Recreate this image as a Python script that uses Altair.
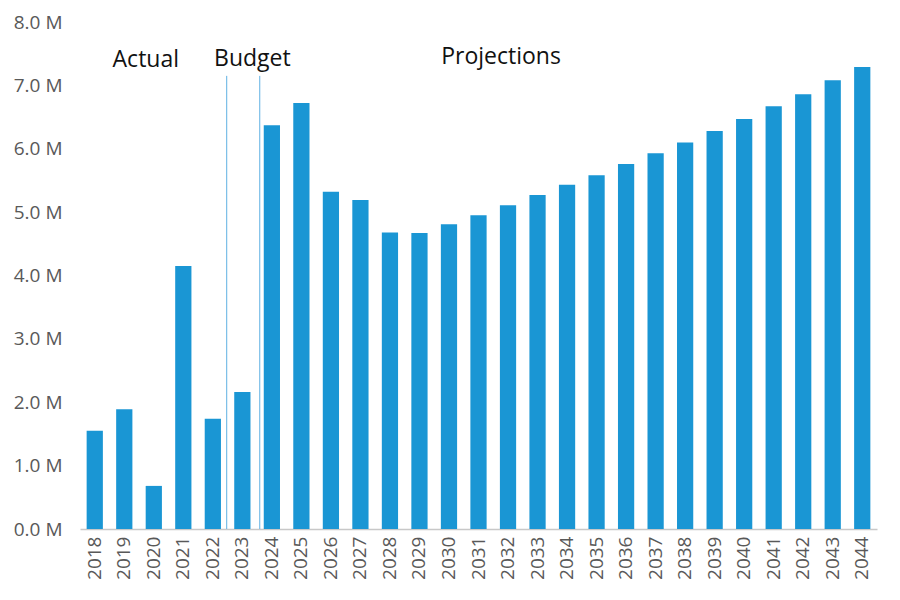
import altair as alt
import pandas as pd

years = [str(y) for y in range(2018, 2045)]
values = [1.55, 1.89, 0.68, 4.15, 1.74, 2.16, 6.37, 6.72, 5.32, 5.19, 4.68, 4.67,
          4.81, 4.95, 5.11, 5.27, 5.43, 5.58, 5.76, 5.93, 6.10, 6.28, 6.47, 6.67,
          6.86, 7.08, 7.29]
values = [v * 1e6 for v in values]

note_labels = ["Actual", "Budget", "Projections"]
note_years = ["2020", "2023", "2032"]
note_dx = [-8, 10, -7]
note_y = [7.40e6, 7.42e6, 7.45e6]

divider_years = ["2022", "2024"]
divider_shift = [22, -4]
divider_top = 7.15e6

df = pd.DataFrame({"year": years, "value": values})

FONT = "Open Sans"

xscale = alt.Scale(domain=years, paddingInner=0.45, paddingOuter=0.225)
yscale = alt.Scale(domain=[0, 8e6])

xaxis = alt.Axis(title=None, labelAngle=-90, ticks=False, domainColor="#c8c8c8",
                 domainWidth=1.5, labelPadding=7, labelBaseline="middle",
                 labelAlign="right")
yaxis = alt.Axis(title=None, values=[i * 1e6 for i in range(9)],
                 labelExpr="format(datum.value/1000000, '.1f') + ' M'",
                 ticks=False, domain=False, grid=False, labelPadding=18)

bars = alt.Chart(df).mark_bar(color="#1a96d4").encode(
    x=alt.X("year:N", scale=xscale, sort=None, axis=xaxis),
    y=alt.Y("value:Q", scale=yscale, axis=yaxis),
)

rules = []
for yr, sh in zip(divider_years, divider_shift):
    rd = pd.DataFrame({"year": [yr], "bottom": [0.0], "top": [divider_top]})
    rules.append(alt.Chart(rd).mark_rule(color="#5fb0e3", strokeWidth=1).encode(
        x=alt.X("year:N", scale=xscale, sort=None, axis=xaxis),
        xOffset=alt.value(sh),
        y=alt.Y("bottom:Q", scale=yscale, axis=yaxis),
        y2=alt.Y2("top:Q"),
    ))

texts = []
for lab, yr, dx, yy in zip(note_labels, note_years, note_dx, note_y):
    nd = pd.DataFrame({"label": [lab], "year": [yr], "y": [yy]})
    texts.append(alt.Chart(nd).mark_text(font=FONT, fontSize=23, color="#111111",
                                         dx=dx, align="center", baseline="middle").encode(
        x=alt.X("year:N", scale=xscale, sort=None, axis=xaxis),
        y=alt.Y("y:Q", scale=yscale, axis=yaxis),
        text="label:N",
    ))

chart = alt.layer(bars, *rules, *texts).properties(
    width=797, height=507,
    autosize=alt.AutoSizeParams(type="none"),
    padding={"left": 72, "top": 14, "right": 10, "bottom": 70},
).configure_view(stroke=None).configure_axis(
    labelFontSize=19, labelFont=FONT, labelColor="#595959"
)

chart.save("out.html", embed_options={"renderer": "svg", "actions": False})
